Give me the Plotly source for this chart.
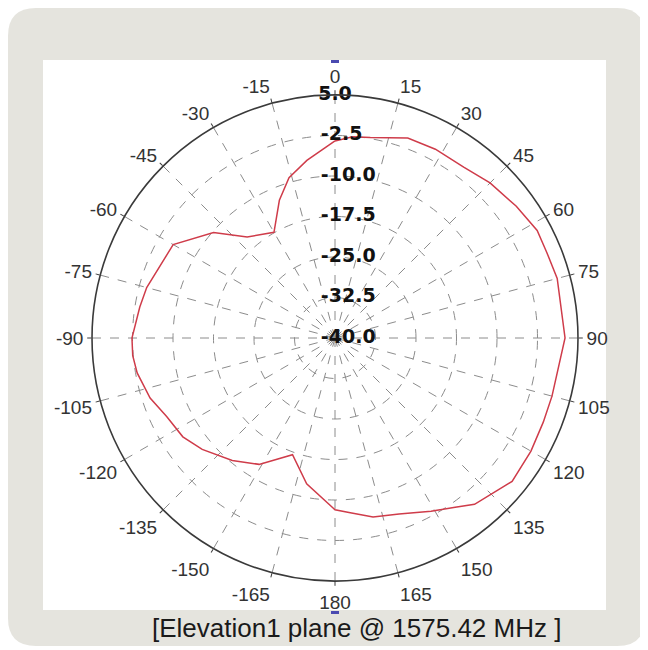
import plotly.graph_objects as go

# ---- data (angle in degrees, gain in dB) ----
theta_deg = [0, 5, 10, 15, 20, 28, 37, 45, 54, 62, 68, 75, 90, 105, 112, 120, 129,
             140, 145, 151, 160, 168, 175, 180, -169, -160, -149, -140, -130, -123,
             -115, -108, -100, -95, -90, -81, -75, -60, -49, -41, -30, -22, -16, -9, 0]
gain_db = [-3.5, -2.6, -2.3, -1.6, -0.6, -0.4, -0.4, 0.6, 1.5, 2.4, 2.3, 2.6, 2.6, 1.6, 1.6, 1.9, 2.2,
           0.2, -1.7, -3.3, -5.3, -6.1, -7.5, -8.2, -12.5, -17.0, -12.7, -10.4, -7.9, -6.4,
           -5.6, -4.0, -2.8, -2.4, -2.4, -3.4, -3.9, -5.4, -10.2, -15.2, -17.4, -12.5, -9.1, -6.7, -3.5]

radial_ticks = [5.0, -2.5, -10.0, -17.5, -25.0, -32.5, -40.0]
radial_labels = ["5.0", "-2.5", "-10.0", "-17.5", "-25.0", "-32.5", "-40.0"]

angle_ticks = [0, 15, 30, 45, 60, 75, 90, 105, 120, 135, 150, 165, 180,
               195, 210, 225, 240, 255, 270, 285, 300, 315, 330, 345]
angle_labels = ["0", "15", "30", "45", "60", "75", "90", "105", "120", "135", "150", "165", "180",
                "-165", "-150", "-135", "-120", "-105", "-90", "-75", "-60", "-45", "-30", "-15"]

caption = "[Elevation1 plane @ 1575.42 MHz ]"

# the page body adds an 8px margin, so the figure is 8px smaller and offset
OFF = 8
W, H = 648 - OFF, 650 - OFF


def px(x):
    return (x - OFF) / W


def py(y):
    return 1 - (y - OFF) / H


def rrect(x0, y0, x1, y1, r):
    # rounded rectangle path in paper units from reference pixel values
    return (f"M {px(x0 + r)} {py(y0)} L {px(x1 - r)} {py(y0)} "
            f"Q {px(x1)} {py(y0)} {px(x1)} {py(y0 + r)} "
            f"L {px(x1)} {py(y1 - r)} Q {px(x1)} {py(y1)} {px(x1 - r)} {py(y1)} "
            f"L {px(x0 + r)} {py(y1)} Q {px(x0)} {py(y1)} {px(x0)} {py(y1 - r)} "
            f"L {px(x0)} {py(y0 + r)} Q {px(x0)} {py(y0)} {px(x0 + r)} {py(y0)} Z")


# labels are left-aligned in the reference: pad with figure spaces so the
# centred text starts at the same x for every label
padded_labels = ["\u2007" * (len(s) - 3) + s for s in radial_labels]

fig = go.Figure()

fig.add_trace(go.Scatterpolar(
    r=gain_db, theta=theta_deg, mode="lines",
    line=dict(color="#cf3c4a", width=1.5),
    hoverinfo="skip", showlegend=False,
))

fig.add_trace(go.Scatterpolar(
    r=radial_ticks, theta=[0] * len(radial_ticks), mode="text",
    text=padded_labels, textposition="middle center",
    textfont=dict(family="DejaVu Sans", size=19, color="#111111", weight="bold"),
    hoverinfo="skip", showlegend=False,
))

cx, cy, R = 335, 338, 243
fig.update_layout(
    width=W, height=H,
    margin=dict(l=0, r=0, t=0, b=0),
    paper_bgcolor="white",
    showlegend=False,
    shapes=[
        dict(type="path", xref="paper", yref="paper", path=rrect(8, 8, 645, 646, 28),
             fillcolor="#e5e4de", line=dict(width=0), layer="below"),
        dict(type="path", xref="paper", yref="paper", path=rrect(43, 60, 606, 610, 0.001),
             fillcolor="white", line=dict(width=0), layer="below"),
        dict(type="rect", xref="paper", yref="paper", x0=px(331), x1=px(339), y0=py(63), y1=py(60),
             fillcolor="#4a4ab0", line=dict(width=0), layer="below"),
        dict(type="rect", xref="paper", yref="paper", x0=px(331), x1=px(339), y0=py(614), y1=py(611),
             fillcolor="#4a4ab0", line=dict(width=0), layer="below"),
    ],
    annotations=[
        dict(text=caption, xref="paper", yref="paper", x=px(356), y=py(628),
             xanchor="center", yanchor="middle", showarrow=False,
             font=dict(family="Liberation Sans", size=26, color="#1a1a1a")),
    ],
    polar=dict(
        domain=dict(x=[px(cx - R), px(cx + R)], y=[py(cy + R), py(cy - R)]),
        bgcolor="rgba(0,0,0,0)",
        radialaxis=dict(
            range=[-40, 5], tickvals=radial_ticks, showticklabels=False,
            showline=False, ticks="", gridcolor="#8c8c8c", griddash="dash", gridwidth=1,
            angle=90,
        ),
        angularaxis=dict(
            rotation=90, direction="clockwise",
            tickvals=angle_ticks, ticktext=angle_labels,
            tickfont=dict(family="Liberation Sans", size=19, color="#333333"),
            showline=True, linecolor="#3a3a3a", linewidth=1.6,
            ticks="outside", ticklen=4, tickcolor="#3a3a3a",
            gridcolor="#8c8c8c", griddash="dash", gridwidth=1,
        ),
    ),
)

fig.write_html("out.html")
